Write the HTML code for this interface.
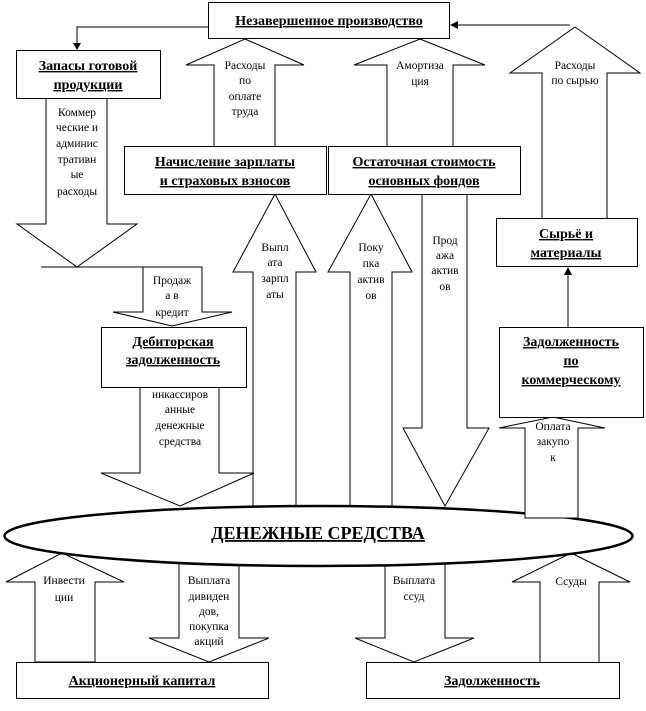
<!DOCTYPE html>
<html><head><meta charset="utf-8"><style>
html,body{margin:0;padding:0;background:#fff;}
svg{display:block;}
.b{font-family:"Liberation Serif","DejaVu Serif",serif;font-weight:bold;font-size:14px;text-decoration:underline;}
.l{font-family:"Liberation Serif","DejaVu Serif",serif;font-size:11.5px;}
</style></head><body>
<svg width="646" height="711" viewBox="0 0 646 711" xmlns="http://www.w3.org/2000/svg">
<g fill="#fff" stroke="#000" stroke-width="1">
<polygon points="46,98 107,98 107,224 137,224 77,267 17,224 46,224"/>
<line x1="41" y1="267" x2="143" y2="267"/>
<polygon points="143,267 202,267 202,312 232,312 172,326 113,312 143,312"/>
<polygon points="245,39 304,65 275,65 275,150 214,150 214,65 186,65"/>
<polygon points="420,39 485,65 453,65 453,150 387,150 387,65 354,65"/>
<polygon points="575,27 640,73 607,73 607,222 542,222 542,73 510,73"/>
<polygon points="275,194 316,272 296,272 296,520 253,520 253,272 233,272"/>
<polygon points="371,194 412,272 392,272 392,520 350,520 350,272 328,272"/>
<polygon points="422,190 467,190 467,428 489,428 445,506 403,428 422,428"/>
<polygon points="140,387 219,387 219,473 254,473 180,506 101,473 140,473"/>
<polygon points="62,553 124,582 95,582 95,662 35,662 35,582 6,582"/>
<polygon points="571,553 630,582 599,582 599,664 540,664 540,582 512,582"/>
<polygon points="179,555 239,555 239,638 269,638 209,662 149,638 179,638"/>
<polygon points="385,555 445,555 445,638 474,638 414,662 355,638 385,638"/>
</g>
<ellipse cx="318.5" cy="536" rx="314" ry="30" fill="#fff" stroke="#000" stroke-width="2.5"/>
<g fill="#fff" stroke="#000" stroke-width="1">
<polygon points="553,417 605,428 578,428 578,518 525,518 525,428 499,428"/>
<rect x="208.5" y="2.5" width="241" height="36"/>
<rect x="16.5" y="50.5" width="144" height="48"/>
<rect x="124.5" y="146.5" width="202" height="48"/>
<rect x="328.5" y="146.5" width="192" height="48"/>
<rect x="496.5" y="218.5" width="141" height="48"/>
<rect x="101.5" y="327.5" width="145" height="60"/>
<rect x="499.5" y="327.5" width="144" height="90"/>
<rect x="16.5" y="662.5" width="252" height="36"/>
<rect x="366.5" y="662.5" width="253" height="36"/>
</g>
<g stroke="#000" stroke-width="1" fill="none">
<polyline points="208,27 77,27 77,44"/>
<line x1="570" y1="25" x2="456" y2="25"/>
<line x1="568" y1="327" x2="568" y2="274"/>
</g>
<g fill="#000">
<polygon points="73,43 81,43 77,50"/>
<polygon points="450,25 458,21 458,29"/>
<polygon points="564,275 572,275 568,267"/>
</g>
<g class="b" text-anchor="middle">
<text x="329" y="25">Незавершенное производство</text>
<text x="88" y="70">Запасы готовой</text>
<text x="88" y="89">продукции</text>
<text x="225" y="166">Начисление зарплаты</text>
<text x="225" y="185">и страховых взносов</text>
<text x="424" y="166">Остаточная стоимость</text>
<text x="424" y="185">основных фондов</text>
<text x="566" y="238">Сырьё и</text>
<text x="566" y="257">материалы</text>
<text x="173" y="346">Дебиторская</text>
<text x="173" y="364">задолженность</text>
<text x="571" y="346">Задолженность</text>
<text x="571" y="365">по</text>
<text x="571" y="384">коммерческому</text>
<text x="318" y="539" style="font-size:18px">ДЕНЕЖНЫЕ СРЕДСТВА</text>
<text x="142" y="685">Акционерный капитал</text>
<text x="492" y="685">Задолженность</text>
</g>
<g class="l" text-anchor="middle">
<text x="77" y="116">Коммер</text><text x="77" y="131">ческие и</text><text x="77" y="147">админис</text><text x="77" y="163">тративн</text><text x="77" y="178">ые</text><text x="77" y="195">расходы</text>
<text x="245" y="69">Расходы</text><text x="245" y="84">по</text><text x="245" y="100">оплате</text><text x="245" y="115">труда</text>
<text x="172" y="284">Продаж</text><text x="172" y="299">а в</text><text x="172" y="316">кредит</text>
<text x="275" y="251">Выпл</text><text x="275" y="266">ата</text><text x="275" y="282">зарпл</text><text x="275" y="298">аты</text>
<text x="420" y="69">Амортиза</text><text x="420" y="85">ция</text>
<text x="575" y="69">Расходы</text><text x="575" y="84">по сырью</text>
<text x="371" y="251">Поку</text><text x="371" y="267">пка</text><text x="371" y="283">актив</text><text x="371" y="299">ов</text>
<text x="445" y="244">Прод</text><text x="445" y="259">ажа</text><text x="445" y="274">актив</text><text x="445" y="290">ов</text>
<text x="180" y="398">инкассиров</text><text x="180" y="413">анные</text><text x="180" y="429">денежные</text><text x="180" y="445">средства</text>
<text x="553" y="430">Оплата</text><text x="553" y="445">закупо</text><text x="553" y="461">к</text>
<text x="64" y="584">Инвести</text><text x="64" y="601">ции</text>
<text x="209" y="584">Выплата</text><text x="209" y="600">дивиден</text><text x="209" y="615">дов,</text><text x="209" y="630">покупка</text><text x="209" y="645">акций</text>
<text x="414" y="584">Выплата</text><text x="414" y="600">ссуд</text>
<text x="571" y="585">Ссуды</text>
</g>
</svg>
</body></html>
